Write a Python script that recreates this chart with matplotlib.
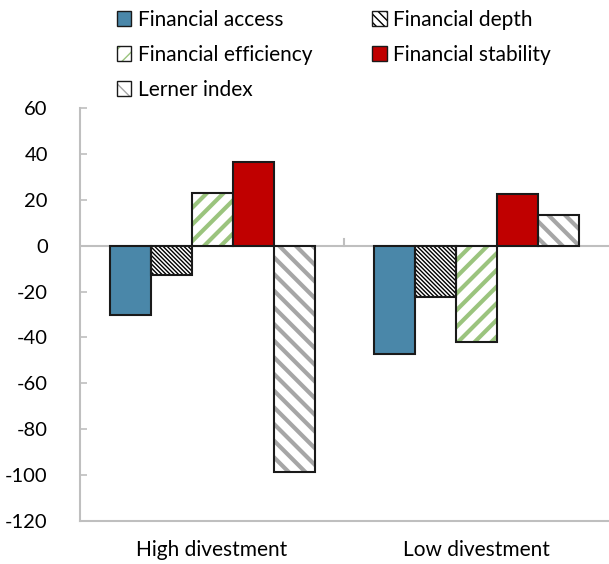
import matplotlib
matplotlib.use("Agg")
import matplotlib.pyplot as plt
from matplotlib.patches import Patch
from matplotlib.legend_handler import HandlerTuple
import numpy as np

plt.rcParams['font.family'] = ['Lato', 'DejaVu Sans']
plt.rcParams['axes.unicode_minus'] = False

categories = ["High divestment", "Low divestment"]
series = ["Financial access", "Financial depth", "Financial efficiency",
          "Financial stability", "Lerner index"]
financial_access = [-30, -47]
financial_depth = [-12.8, -22.2]
financial_efficiency = [23.1, -42]
financial_stability = [36.4, 22.4]
lerner_index = [-98.5, 13.4]
yticks = [60, 40, 20, 0, -20, -40, -60, -80, -100, -120]

values = [financial_access, financial_depth, financial_efficiency,
          financial_stability, lerner_index]
# (face, hatch, hatch color)
styles = [
    ("#4A87A9", None, None),
    ("white", "\\" * 8, "black"),
    ("white", "//", "#9BC47E"),
    ("#C00000", None, None),
    ("white", "\\\\", "#A6A6A6"),
]
legend_hatch = [None, "\\\\\\\\", "//", None, "\\\\"]
hatch_lw = [0, 1.0, 3.0, 0, 3.0]

fig = plt.figure(figsize=(6.09, 5.64), dpi=100)
ax = fig.add_axes([0.131, 0.0762, 0.869, 0.7323])

x = np.arange(len(categories))
w = 0.155
handles = []
for i, (vals, (fc, hatch, hc)) in enumerate(zip(values, styles)):
    pos = x + (i - 2) * w
    if hatch:
        bars = ax.bar(pos, vals, w, color=fc, edgecolor=hc, hatch=hatch,
                      linewidth=0, zorder=2)
        for b in bars:
            try:
                b.set_hatch_linewidth(hatch_lw[i])
            except Exception:
                pass
        ax.bar(pos, vals, w, facecolor="none", edgecolor="#1a1a1a",
               linewidth=1.5, zorder=3)
        h1 = Patch(facecolor=fc, edgecolor=hc, hatch=legend_hatch[i],
                   linewidth=0)
        try:
            h1.set_hatch_linewidth(min(hatch_lw[i], 2.0))
        except Exception:
            pass
        h2 = Patch(facecolor="none", edgecolor="#1a1a1a", linewidth=1.0)
        h = (h1, h2)
    else:
        ax.bar(pos, vals, w, color=fc, edgecolor="#1a1a1a", linewidth=1.5, zorder=3)
        h = Patch(facecolor=fc, edgecolor="#1a1a1a", linewidth=1.0)
    handles.append(h)

ax.axhline(0, color="#BFBFBF", linewidth=1.5, zorder=1)
ax.plot([0.5, 0.5], [0, 3], color="#BFBFBF", linewidth=1.5, zorder=1)

ax.set_xlim(-0.5, 1.5)
ax.set_ylim(-120, 60)
ax.set_yticks(yticks)
ax.set_xticks(x)
ax.set_xticklabels(categories, fontsize=15)
ax.tick_params(axis='x', length=0, pad=14)
ax.tick_params(axis='y', direction='in', length=5, color="#BFBFBF",
               labelsize=14.5, pad=23, width=1.2)
for s in ["top", "right"]:
    ax.spines[s].set_visible(False)
for s in ["left", "bottom"]:
    ax.spines[s].set_color("#BFBFBF")
    ax.spines[s].set_linewidth(1.5)

order = [0, 2, 4, 1, 3]
fig.legend([handles[k] for k in order], [series[k] for k in order],
           handler_map={tuple: HandlerTuple(ndivide=1, pad=0)},
           ncol=2, loc="upper left", bbox_to_anchor=(0.178, 0.997),
           frameon=False, fontsize=15, handlelength=0.7, handleheight=0.7,
           handletextpad=0.3, labelspacing=0.71, columnspacing=2.9,
           borderaxespad=0)

fig.savefig("out.png", dpi=100)
